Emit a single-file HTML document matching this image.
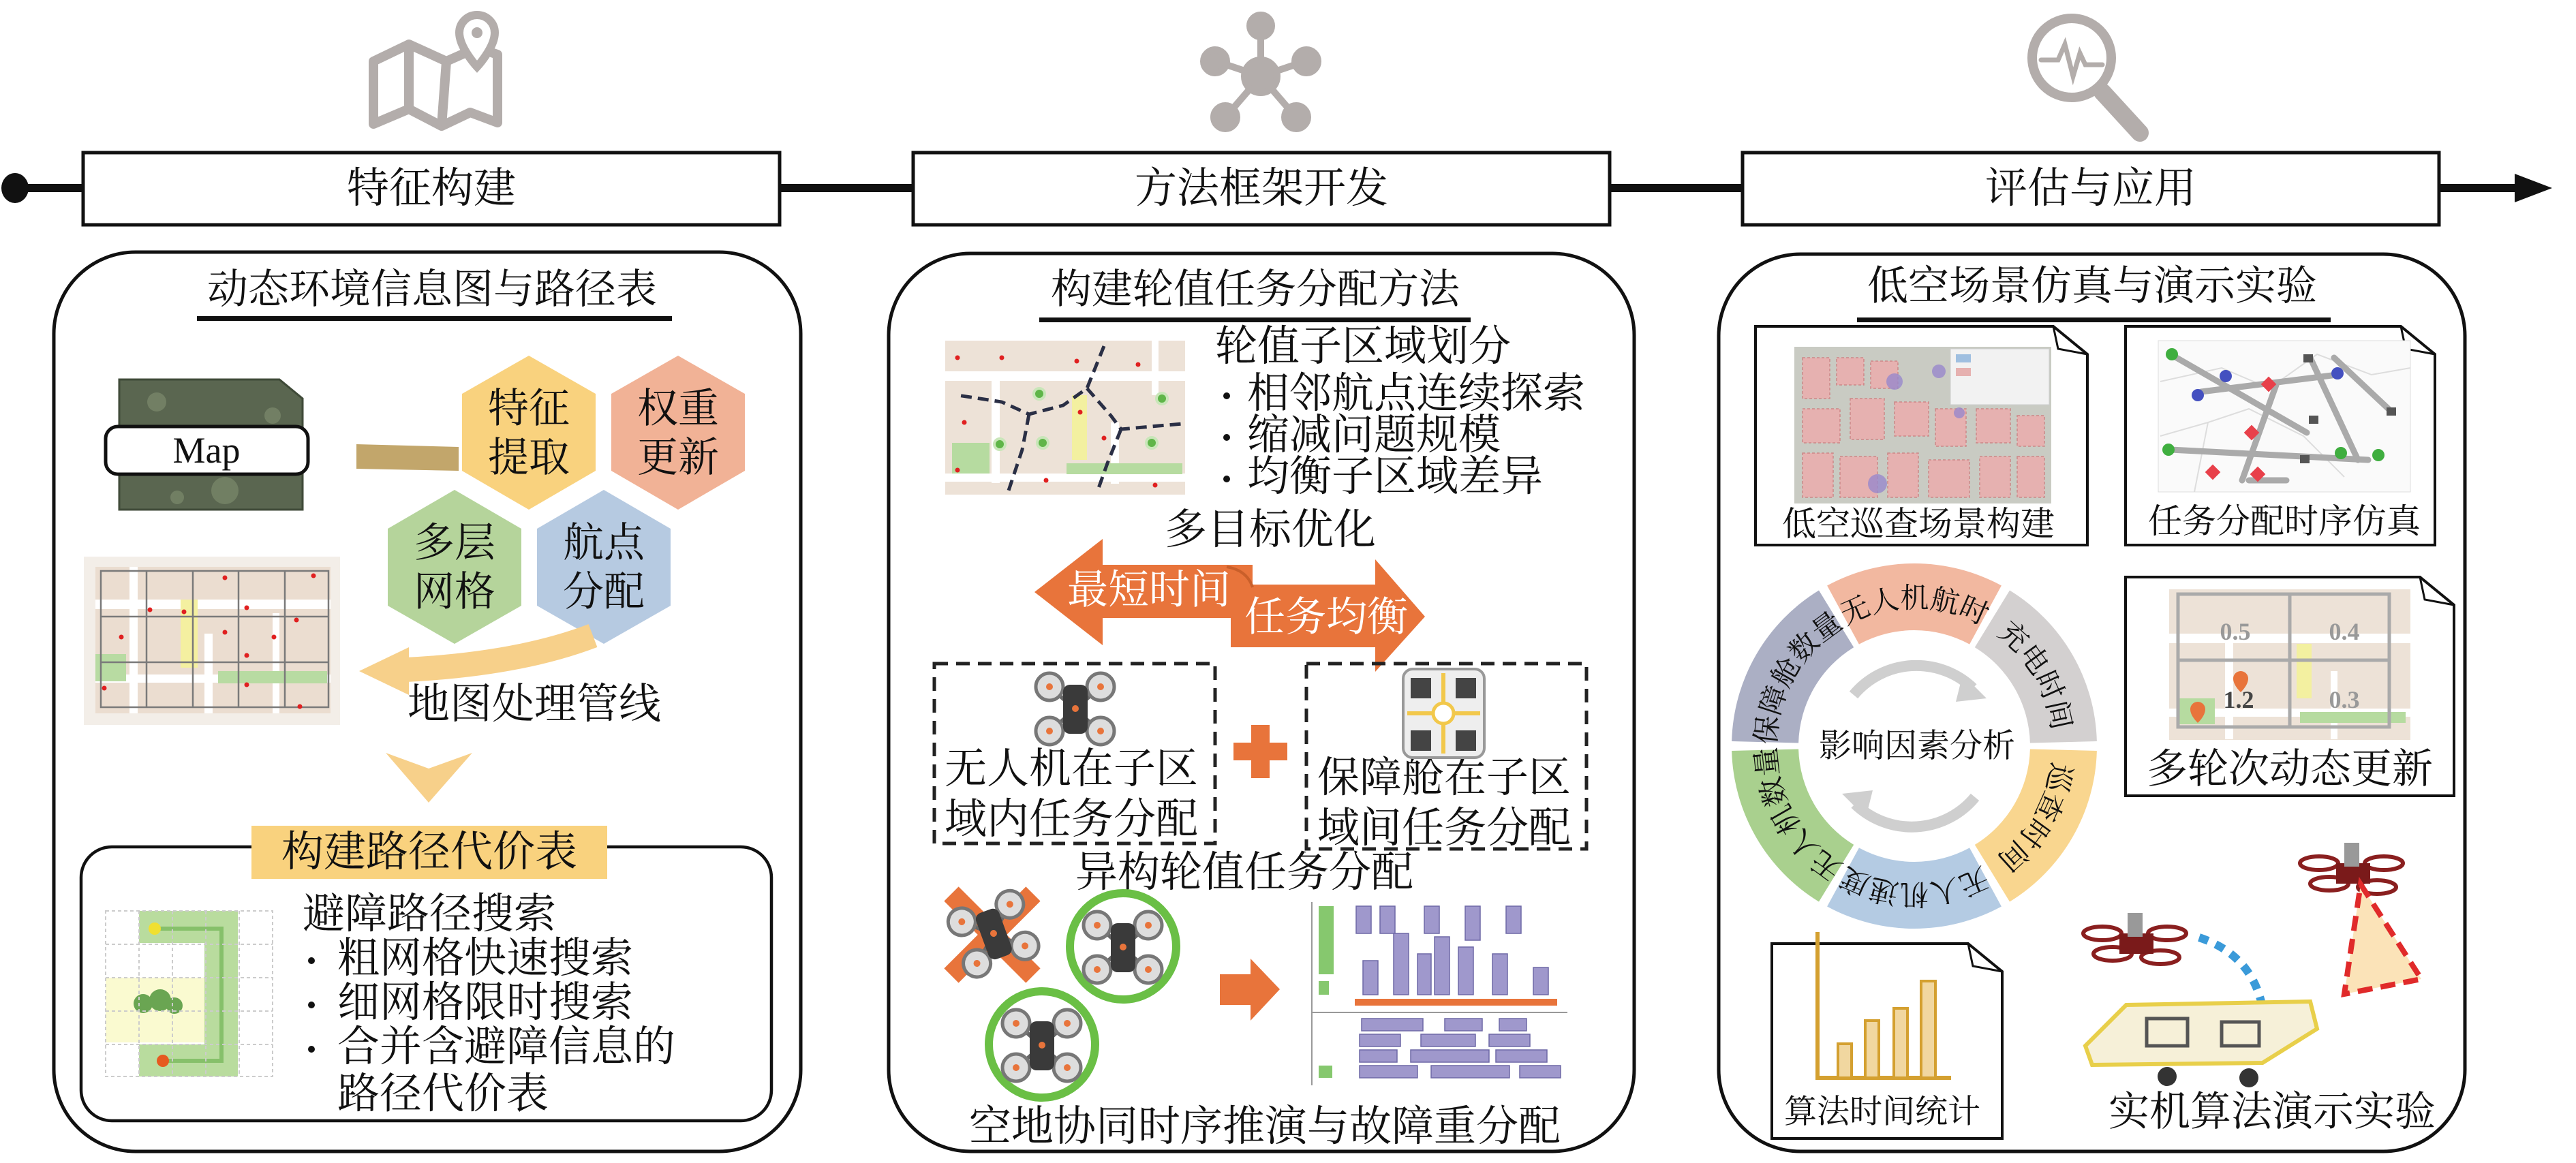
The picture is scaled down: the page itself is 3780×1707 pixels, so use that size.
<!DOCTYPE html>
<html><head><meta charset="utf-8"><style>
html,body{margin:0;padding:0;background:#fff}
svg{display:block}
text{font-family:"Liberation Serif","Noto Serif CJK SC",serif;fill:#111}
</style></head><body>
<svg width="3780" height="1707" viewBox="0 0 3780 1707" xmlns="http://www.w3.org/2000/svg">
<!-- top icons -->
<g fill="none" stroke="#b3adab" stroke-width="14" stroke-linejoin="round">
  <path d="M548 90 L600 65 L655 90 L700 70 L730 80 L730 180 L690 165 L648 185 L600 160 L548 182 Z"/>
  <line x1="600" y1="65" x2="600" y2="160"/><line x1="655" y1="90" x2="648" y2="185"/>
</g>
<path d="M700 22 a26 26 0 0 1 26 26 c0 22 -26 50 -26 50 c0 0 -26 -28 -26 -50 a26 26 0 0 1 26 -26z" fill="#fff" stroke="#b3adab" stroke-width="12"/>
<circle cx="700" cy="48" r="8" fill="#b3adab"/>
<g stroke="#b3adab" stroke-width="10" fill="#b3adab">
  <line x1="1850" y1="112" x2="1850" y2="40"/><line x1="1850" y1="112" x2="1785" y2="90"/><line x1="1850" y1="112" x2="1915" y2="90"/>
  <line x1="1850" y1="112" x2="1800" y2="170"/><line x1="1850" y1="112" x2="1900" y2="170"/>
  <circle cx="1850" cy="112" r="24"/><circle cx="1850" cy="38" r="16"/><circle cx="1783" cy="90" r="17"/><circle cx="1917" cy="90" r="17"/><circle cx="1798" cy="172" r="17"/><circle cx="1902" cy="172" r="17"/>
</g>
<g fill="none" stroke="#b3adab" stroke-linecap="round">
  <circle cx="3040" cy="85" r="58" stroke-width="14"/>
  <line x1="3085" y1="135" x2="3140" y2="195" stroke-width="26"/>
  <polyline points="2995,88 3020,88 3030,65 3042,112 3052,78 3060,95 3085,95" stroke-width="7"/>
</g>
<!-- timeline -->
<rect x="24" y="270" width="3680" height="12" fill="#111"/>
<ellipse cx="22" cy="276" rx="20" ry="22" fill="#111"/>
<polygon points="3690,255 3745,276 3690,297" fill="#111"/>
<g fill="#fff" stroke="#111">
  <rect x="122" y="224" width="1022" height="106" stroke-width="5"/>
  <rect x="1340" y="224" width="1022" height="106" stroke-width="5"/>
  <rect x="2557" y="224" width="1022" height="106" stroke-width="5"/>
</g>
<g font-size="62" text-anchor="middle" dominant-baseline="central">
  <text x="633" y="277">特征构建</text>
  <text x="1851" y="277">方法框架开发</text>
  <text x="3068" y="277">评估与应用</text>
</g>
<!-- panels -->
<g fill="none" stroke="#111" stroke-width="5">
  <rect x="79" y="370" width="1096" height="1320" rx="120"/>
  <rect x="1304" y="372" width="1094" height="1318" rx="120"/>
  <rect x="2522" y="373" width="1095" height="1317" rx="120"/>
</g>
<!-- ========== Panel 1 ========== -->
<text x="634" y="425" font-size="60" text-anchor="middle" dominant-baseline="central">动态环境信息图与路径表</text>
<rect x="289" y="464" width="697" height="7" fill="#111"/>
<path d="M175 557 L410 557 L444 585 L444 748 L175 748 Z" fill="#5a6650"/>
<path d="M175 557 L410 557 L444 585 L444 748 L175 748 Z" fill="none" stroke="#3f4a38" stroke-width="3"/>
<g fill="#7c8a6c" opacity="0.7"><circle cx="230" cy="590" r="14"/><circle cx="330" cy="720" r="20"/><circle cx="400" cy="610" r="12"/><circle cx="260" cy="730" r="10"/></g>
<rect x="155" y="626" width="297" height="70" rx="18" fill="#fff" stroke="#111" stroke-width="5"/>
<text x="303" y="661" font-size="54" text-anchor="middle" dominant-baseline="central">Map</text>
<polygon points="523,652 673,656 673,691 523,688" fill="#c2a66b"/>
<polygon points="826,755 868,745 874,756 832,766" fill="#c2a66b"/>
<polygon points="776,522 874,578 874,691 776,748 678,691 678,578" fill="#f9d27e"/>
<polygon points="995,522 1093,578 1093,691 995,748 897,691 897,578" fill="#f1b296"/>
<polygon points="667,719 765,776 765,889 667,945 569,889 569,776" fill="#b5d49b"/>
<polygon points="886,719 984,776 984,889 886,945 788,889 788,776" fill="#b6cae1"/>
<g font-size="60" text-anchor="middle" dominant-baseline="central">
  <text x="776" y="600">特征</text><text x="776" y="672">提取</text>
  <text x="995" y="600">权重</text><text x="995" y="672">更新</text>
  <text x="667" y="797">多层</text><text x="667" y="869">网格</text>
  <text x="886" y="797">航点</text><text x="886" y="869">分配</text>
</g>
<rect x="123" y="817" width="376" height="247" fill="#f3eee8"/>
<rect x="140" y="832" width="345" height="215" fill="#ebddd0"/>
<g fill="#fff"><rect x="140" y="880" width="345" height="14"/><rect x="190" y="832" width="12" height="215"/><rect x="300" y="930" width="12" height="117"/><rect x="140" y="990" width="345" height="12"/><rect x="400" y="900" width="10" height="147"/></g>
<rect x="265" y="880" width="25" height="100" fill="#f4f0a0"/>
<rect x="140" y="960" width="45" height="40" fill="#b8dba2"/><rect x="320" y="985" width="160" height="18" fill="#b8dba2"/>
<g stroke="#7a7a7a" stroke-width="2.5" fill="none"><rect x="148" y="838" width="334" height="200"/><line x1="215" y1="838" x2="215" y2="1038"/><line x1="283" y1="838" x2="283" y2="1038"/><line x1="350" y1="838" x2="350" y2="1038"/><line x1="418" y1="838" x2="418" y2="1038"/><line x1="148" y1="905" x2="482" y2="905"/><line x1="148" y1="972" x2="482" y2="972"/></g>
<g fill="#e02020"><circle cx="330" cy="848" r="3.5"/><circle cx="460" cy="845" r="3.5"/><circle cx="220" cy="895" r="3.5"/><circle cx="270" cy="898" r="3.5"/><circle cx="362" cy="892" r="3.5"/><circle cx="178" cy="935" r="3.5"/><circle cx="330" cy="928" r="3.5"/><circle cx="402" cy="935" r="3.5"/><circle cx="362" cy="962" r="3.5"/><circle cx="435" cy="910" r="3.5"/><circle cx="153" cy="1010" r="3.5"/><circle cx="362" cy="1005" r="3.5"/><circle cx="440" cy="1037" r="3.5"/></g>
<path d="M870 933 Q760 975 595 983" fill="none" stroke="#f7d08a" stroke-width="36"/>
<polygon points="527,985 600,950 600,1020" fill="#f7d08a"/>
<text x="784" y="1034" font-size="62" text-anchor="middle" dominant-baseline="central">地图处理管线</text>
<polygon points="566,1105 629,1128 693,1105 629,1178" fill="#f7d08a"/>
<rect x="119" y="1243" width="1013" height="402" rx="45" fill="none" stroke="#111" stroke-width="4.5"/>
<rect x="369" y="1212" width="522" height="78" fill="#f9d27e"/>
<text x="630" y="1251" font-size="62" text-anchor="middle" dominant-baseline="central">构建路径代价表</text>
<rect x="155" y="1337" width="245" height="243" fill="#fff"/>
<rect x="155" y="1435" width="145" height="95" fill="#fafad0"/>
<rect x="204" y="1337" width="145" height="47" fill="#b9dc9e"/>
<rect x="300" y="1337" width="49" height="243" fill="#b9dc9e"/>
<rect x="204" y="1533" width="145" height="47" fill="#b9dc9e"/>
<path d="M227 1363 L325 1363 L325 1557 L235 1557" fill="none" stroke="#86c06a" stroke-width="6"/>
<circle cx="227" cy="1363" r="9" fill="#f0e030"/><circle cx="239" cy="1557" r="9" fill="#e65a20"/>
<g fill="#6aa552"><circle cx="210" cy="1473" r="14"/><circle cx="235" cy="1468" r="16"/><circle cx="256" cy="1476" r="12"/></g>
<g stroke="#ccc" stroke-width="2" stroke-dasharray="5 4" fill="none"><rect x="155" y="1337" width="245" height="243"/><line x1="204" y1="1337" x2="204" y2="1580"/><line x1="253" y1="1337" x2="253" y2="1580"/><line x1="302" y1="1337" x2="302" y2="1580"/><line x1="351" y1="1337" x2="351" y2="1580"/><line x1="155" y1="1386" x2="400" y2="1386"/><line x1="155" y1="1435" x2="400" y2="1435"/><line x1="155" y1="1484" x2="400" y2="1484"/><line x1="155" y1="1533" x2="400" y2="1533"/></g>
<g font-size="62" dominant-baseline="central">
  <text x="444" y="1342">避障路径搜索</text>
  <text x="495" y="1407">粗网格快速搜索</text>
  <text x="495" y="1472">细网格限时搜索</text>
  <text x="495" y="1537">合并含避障信息的</text>
  <text x="495" y="1606">路径代价表</text>
</g>
<g fill="#111"><circle cx="457" cy="1410" r="5"/><circle cx="457" cy="1475" r="5"/><circle cx="457" cy="1540" r="5"/></g>
<!-- ========== Panel 2 ========== -->
<text x="1842" y="425" font-size="60" text-anchor="middle" dominant-baseline="central">构建轮值任务分配方法</text>
<rect x="1525" y="466" width="633" height="7" fill="#111"/>
<rect x="1387" y="500" width="352" height="226" fill="#ede2d7"/>
<g fill="#fff"><rect x="1387" y="545" width="352" height="14"/><rect x="1387" y="695" width="352" height="12"/><rect x="1455" y="559" width="12" height="150"/><rect x="1630" y="620" width="12" height="90"/><rect x="1690" y="500" width="10" height="80"/></g>
<rect x="1573" y="580" width="22" height="95" fill="#f3f0a0"/>
<rect x="1397" y="650" width="55" height="45" fill="#b6dba0"/><rect x="1565" y="680" width="170" height="16" fill="#b6dba0"/>
<g fill="none" stroke="#2a2f45" stroke-width="5" stroke-dasharray="16 9">
  <path d="M1620 508 L1595 570 L1560 595 L1510 608 L1470 590 L1405 580"/>
  <path d="M1595 570 L1630 610 L1645 630 L1700 625 L1735 622"/>
  <path d="M1510 608 L1500 660 L1480 720"/>
  <path d="M1645 630 L1625 680 L1610 722"/>
</g>
<g fill="#5fb548" stroke="#c9e6b9" stroke-width="4"><circle cx="1525" cy="578" r="8"/><circle cx="1705" cy="585" r="8"/><circle cx="1467" cy="652" r="8"/><circle cx="1530" cy="650" r="8"/><circle cx="1690" cy="650" r="8"/></g>
<g fill="#e02020"><circle cx="1405" cy="525" r="3.5"/><circle cx="1470" cy="525" r="3.5"/><circle cx="1580" cy="530" r="3.5"/><circle cx="1670" cy="535" r="3.5"/><circle cx="1415" cy="620" r="3.5"/><circle cx="1585" cy="605" r="3.5"/><circle cx="1620" cy="643" r="3.5"/><circle cx="1405" cy="690" r="3.5"/><circle cx="1535" cy="705" r="3.5"/><circle cx="1695" cy="712" r="3.5"/></g>
<g font-size="62" dominant-baseline="central">
  <text x="1783" y="509">轮值子区域划分</text>
  <text x="1830" y="578">相邻航点连续探索</text>
  <text x="1830" y="639">缩减问题规模</text>
  <text x="1830" y="700">均衡子区域差异</text>
</g>
<g fill="#111"><circle cx="1800" cy="581" r="5"/><circle cx="1800" cy="642" r="5"/><circle cx="1800" cy="703" r="5"/></g>
<text x="1864" y="778" font-size="62" text-anchor="middle" dominant-baseline="central">多目标优化</text>
<polygon points="1518,869 1618,791 1618,829 1838,829 1838,907 1618,907 1618,947" fill="#e8743b"/>
<polygon points="1806,858 2018,858 2018,821 2091,905 2018,986 2018,950 1806,950" fill="#e8743b"/>
<path d="M1800 832 q30 5 38 30" fill="none" stroke="#c95f2a" stroke-width="4"/>
<g font-size="60" dominant-baseline="central" text-anchor="middle">
  <text x="1686" y="866" style="fill:#fff">最短时间</text>
  <text x="1946" y="906" style="fill:#fff">任务均衡</text>
</g>
<g fill="none" stroke="#222" stroke-width="5" stroke-dasharray="20 12">
  <rect x="1371" y="974" width="412" height="264"/>
  <rect x="1917" y="974" width="411" height="272"/>
</g>
<g id="drone">
  <g stroke="#666" stroke-width="6"><line x1="1545" y1="1012" x2="1610" y2="1070"/><line x1="1610" y1="1012" x2="1545" y2="1070"/></g>
  <g fill="#ddd" stroke="#777" stroke-width="5"><circle cx="1540" cy="1008" r="20"/><circle cx="1615" cy="1008" r="20"/><circle cx="1540" cy="1073" r="20"/><circle cx="1615" cy="1073" r="20"/></g>
  <g fill="#e8743b"><circle cx="1540" cy="1008" r="5"/><circle cx="1615" cy="1008" r="5"/><circle cx="1540" cy="1073" r="5"/><circle cx="1615" cy="1073" r="5"/></g>
  <rect x="1560" y="1005" width="36" height="72" rx="10" fill="#3a3a3a"/>
  <circle cx="1578" cy="1040" r="5" fill="#e8743b"/>
</g>
<g font-size="62" dominant-baseline="central">
  <text x="1386" y="1129">无人机在子区</text><text x="1386" y="1203">域内任务分配</text>
  <text x="1933" y="1142">保障舱在子区</text><text x="1933" y="1216">域间任务分配</text>
</g>
<polygon points="1836,1064 1863,1064 1863,1090 1889,1090 1889,1116 1863,1116 1863,1142 1836,1142 1836,1116 1810,1116 1810,1090 1836,1090" fill="#e8743b"/>
<rect x="2059" y="982" width="119" height="130" rx="14" fill="#eee" stroke="#999" stroke-width="4"/>
<g fill="none" stroke="#f2c84b" stroke-width="6"><line x1="2065" y1="1047" x2="2172" y2="1047"/><line x1="2118" y1="988" x2="2118" y2="1106"/></g>
<circle cx="2118" cy="1047" r="15" fill="#fff" stroke="#f2c84b" stroke-width="5"/>
<g fill="#444"><rect x="2070" y="995" width="30" height="30"/><rect x="2136" y="995" width="30" height="30"/><rect x="2070" y="1072" width="30" height="30"/><rect x="2136" y="1072" width="30" height="30"/></g>
<text x="1826" y="1281" font-size="62" text-anchor="middle" dominant-baseline="central">异构轮值任务分配</text>
<g stroke="#e8743b" stroke-width="30"><line x1="1396" y1="1312" x2="1516" y2="1432"/><line x1="1516" y1="1312" x2="1396" y2="1432"/></g>
<use href="#drone" transform="translate(-120,330) rotate(-20 1578 1040)"/>
<circle cx="1648" cy="1389" r="78" fill="none" stroke="#6abf45" stroke-width="12"/>
<use href="#drone" transform="translate(70,350)"/>
<circle cx="1529" cy="1533" r="78" fill="none" stroke="#6abf45" stroke-width="12"/>
<use href="#drone" transform="translate(-49,494)"/>
<polygon points="1790,1430 1835,1430 1835,1407 1878,1452 1835,1498 1835,1475 1790,1475" fill="#e8743b"/>
<g fill="#9f98cc" stroke="#6e68a6" stroke-width="1.5">
  <rect x="1990" y="1330" width="22" height="40"/><rect x="2025" y="1330" width="22" height="40"/><rect x="2090" y="1330" width="22" height="40"/><rect x="2150" y="1330" width="22" height="50"/><rect x="2210" y="1330" width="22" height="40"/>
  <rect x="2045" y="1370" width="22" height="90"/><rect x="2105" y="1375" width="22" height="85"/><rect x="2140" y="1390" width="22" height="70"/><rect x="2190" y="1400" width="22" height="60"/><rect x="2250" y="1420" width="22" height="40"/><rect x="2000" y="1410" width="22" height="50"/><rect x="2080" y="1400" width="20" height="60"/>
  <rect x="1998" y="1495" width="90" height="18"/><rect x="2120" y="1495" width="55" height="18"/><rect x="2200" y="1495" width="40" height="18"/>
  <rect x="1995" y="1518" width="60" height="18"/><rect x="2085" y="1518" width="80" height="18"/><rect x="2185" y="1518" width="60" height="18"/>
  <rect x="1995" y="1541" width="55" height="18"/><rect x="2070" y="1541" width="115" height="18"/><rect x="2195" y="1541" width="75" height="18"/>
  <rect x="1995" y="1564" width="85" height="18"/><rect x="2100" y="1564" width="115" height="18"/><rect x="2230" y="1564" width="60" height="18"/>
</g>
<g fill="#86c86e"><rect x="1935" y="1330" width="22" height="100"/><rect x="1935" y="1440" width="15" height="20"/><rect x="1935" y="1564" width="20" height="18"/></g>
<rect x="1988" y="1466" width="297" height="10" fill="#e8743b"/>
<line x1="1925" y1="1486" x2="2300" y2="1486" stroke="#999" stroke-width="2"/>
<line x1="1925" y1="1324" x2="1925" y2="1593" stroke="#999" stroke-width="2"/>
<text x="1856" y="1654" font-size="62" text-anchor="middle" dominant-baseline="central">空地协同时序推演与故障重分配</text>
<!-- ========== Panel 3 ========== -->
<text x="3070" y="420" font-size="60" text-anchor="middle" dominant-baseline="central">低空场景仿真与演示实验</text>
<rect x="2725" y="466" width="695" height="7" fill="#111"/>
<g fill="#fff" stroke="#111" stroke-width="4">
  <path d="M2576 479 L3013 479 L3063 520 L3063 800 L2576 800 Z"/>
  <path d="M3119 479 L3523 479 L3573 520 L3573 800 L3119 800 Z"/>
  <path d="M3119 847 L3551 847 L3601 888 L3601 1168 L3119 1168 Z"/>
  <path d="M2600 1385 L2888 1385 L2938 1426 L2938 1671 L2600 1671 Z"/>
</g>
<g fill="none" stroke="#111" stroke-width="3"><path d="M3013 479 L3020 512 L3063 520"/><path d="M3523 479 L3530 512 L3573 520"/><path d="M3551 847 L3558 880 L3601 888"/><path d="M2888 1385 L2895 1418 L2938 1426"/></g>
<rect x="2633" y="509" width="377" height="230" fill="#c9cbc3"/>
<g fill="#e6b1b0" stroke="#c88" stroke-width="1.5" stroke-dasharray="4 3">
  <rect x="2645" y="525" width="40" height="60"/><rect x="2695" y="525" width="40" height="40"/><rect x="2745" y="530" width="40" height="40"/>
  <rect x="2645" y="600" width="55" height="50"/><rect x="2715" y="585" width="50" height="60"/><rect x="2780" y="590" width="50" height="50"/><rect x="2840" y="600" width="45" height="55"/><rect x="2900" y="600" width="50" height="50"/><rect x="2960" y="610" width="40" height="45"/>
  <rect x="2645" y="665" width="45" height="65"/><rect x="2700" y="670" width="55" height="60"/><rect x="2770" y="665" width="45" height="65"/><rect x="2830" y="675" width="60" height="55"/><rect x="2905" y="670" width="45" height="60"/><rect x="2960" y="670" width="40" height="60"/>
</g>
<rect x="2862" y="512" width="145" height="82" fill="#f2f2f2" stroke="#ccc"/>
<rect x="2870" y="520" width="22" height="12" fill="#9fbfe0"/><rect x="2870" y="540" width="22" height="12" fill="#e6b1b0"/>
<g fill="#9988cc" opacity=".8"><circle cx="2755" cy="710" r="14"/><circle cx="2780" cy="560" r="12"/><circle cx="2845" cy="545" r="10"/><circle cx="2875" cy="606" r="8"/></g>
<text x="2815" y="769" font-size="50" text-anchor="middle" dominant-baseline="central">低空巡查场景构建</text>
<rect x="3167" y="500" width="370" height="222" fill="#fafafa" stroke="#ddd"/>
<g stroke="#ddd" stroke-width="2" fill="none"><path d="M3170 560 L3260 540 L3330 570 L3400 520 L3480 550 L3537 540"/><path d="M3220 722 L3240 620 L3300 600 L3380 640 L3440 700"/><path d="M3170 640 L3240 620"/></g>
<g stroke="#aaa" stroke-width="9" stroke-linecap="round">
  <line x1="3185" y1="520" x2="3385" y2="635"/><line x1="3230" y1="575" x2="3430" y2="550"/><line x1="3425" y1="525" x2="3510" y2="605"/><line x1="3390" y1="525" x2="3460" y2="675"/><line x1="3185" y1="660" x2="3475" y2="675"/><line x1="3340" y1="565" x2="3290" y2="705"/><line x1="3300" y1="705" x2="3355" y2="705"/>
</g>
<g fill="#3fae3f"><circle cx="3187" cy="520" r="9"/><circle cx="3182" cy="660" r="9"/><circle cx="3435" cy="665" r="9"/><circle cx="3490" cy="668" r="9"/></g>
<g fill="#4450c0"><circle cx="3266" cy="552" r="9"/><circle cx="3225" cy="580" r="9"/><circle cx="3430" cy="548" r="9"/></g>
<g fill="#e8404a"><rect x="3321" y="556" width="16" height="16" transform="rotate(45 3329 564)"/><rect x="3296" y="627" width="16" height="16" transform="rotate(45 3304 635)"/><rect x="3239" y="685" width="16" height="16" transform="rotate(45 3247 693)"/><rect x="3305" y="688" width="16" height="16" transform="rotate(45 3313 696)"/></g>
<g fill="#555"><rect x="3380" y="520" width="14" height="12"/><rect x="3388" y="610" width="14" height="12"/><rect x="3502" y="598" width="14" height="12"/><rect x="3375" y="668" width="14" height="12"/></g>
<text x="3352" y="765" font-size="50" text-anchor="middle" dominant-baseline="central">任务分配时序仿真</text>
<rect x="3183" y="865" width="354" height="221" fill="#ede2d7"/>
<g fill="#fff"><rect x="3183" y="930" width="354" height="14"/><rect x="3183" y="1040" width="354" height="12"/><rect x="3265" y="935" width="12" height="150"/><rect x="3420" y="985" width="10" height="100"/></g>
<rect x="3370" y="945" width="22" height="80" fill="#f3f0a0"/>
<rect x="3195" y="1025" width="55" height="38" fill="#b6dba0"/><rect x="3375" y="1045" width="155" height="16" fill="#b6dba0"/>
<g stroke="#aaa" stroke-width="5" fill="none"><rect x="3196" y="872" width="310" height="195"/><line x1="3360" y1="872" x2="3360" y2="1067"/><line x1="3196" y1="969" x2="3506" y2="969"/></g>
<g font-size="36" font-weight="bold" text-anchor="middle" dominant-baseline="central">
  <text x="3280" y="927" style="fill:#999">0.5</text><text x="3440" y="927" style="fill:#999">0.4</text><text x="3285" y="1027" style="fill:#444">1.2</text><text x="3440" y="1027" style="fill:#999">0.3</text>
</g>
<g fill="#e8743b"><path d="M3288 985 a11 11 0 0 1 11 11 c0 10 -11 20 -11 20 c0 0 -11 -10 -11 -20 a11 11 0 0 1 11 -11z"/><path d="M3225 1030 a11 11 0 0 1 11 11 c0 10 -11 20 -11 20 c0 0 -11 -10 -11 -20 a11 11 0 0 1 11 -11z"/></g>
<text x="3360" y="1129" font-size="60" text-anchor="middle" dominant-baseline="central">多轮次动态更新</text>
<!-- ring -->
<path d="M2681.1 859.5 A268 268 0 0 1 2936.9 859.5 L2890.1 945.6 A170 170 0 0 0 2727.9 945.6 Z" fill="#f2b8a0"/>
<path d="M2949.0 866.5 A268 268 0 0 1 3076.9 1088.0 L2978.9 1090.5 A170 170 0 0 0 2897.8 950.1 Z" fill="#d3d0d0"/>
<path d="M3076.9 1102.0 A268 268 0 0 1 2949.0 1323.5 L2897.8 1239.9 A170 170 0 0 0 2978.9 1099.5 Z" fill="#f9d68f"/>
<path d="M2936.9 1330.5 A268 268 0 0 1 2681.1 1330.5 L2727.9 1244.4 A170 170 0 0 0 2890.1 1244.4 Z" fill="#b4cbe3"/>
<path d="M2669.0 1323.5 A268 268 0 0 1 2541.1 1102.0 L2639.1 1099.5 A170 170 0 0 0 2720.2 1239.9 Z" fill="#a9d08e"/>
<path d="M2541.1 1088.0 A268 268 0 0 1 2669.0 866.5 L2720.2 950.1 A170 170 0 0 0 2639.1 1090.5 Z" fill="#abafc4"/>
<path id="ringp" d="M2809 1298 A203 203 0 0 1 2809 892 A203 203 0 0 1 2809 1298 A203 203 0 0 1 2809 892 A203 203 0 0 1 2809 1298" fill="none"/>
<g font-size="42" text-anchor="middle">
  <text><textPath href="#ringp" startOffset="638">无人机航时</textPath></text>
  <text><textPath href="#ringp" startOffset="850">充电时间</textPath></text>
  <text><textPath href="#ringp" startOffset="1063">巡查时间</textPath></text>
  <text><textPath href="#ringp" startOffset="1275">无人机速度</textPath></text>
  <text><textPath href="#ringp" startOffset="1488">无人机数量</textPath></text>
  <text><textPath href="#ringp" startOffset="425">保障舱数量</textPath></text>
</g>
<g fill="none" stroke="#cfcfcf" stroke-width="16"><path d="M2720 1020 A120 120 0 0 1 2895 1010"/><path d="M2898 1170 A120 120 0 0 1 2722 1180"/></g>
<polygon points="2880,990 2915,1025 2870,1030" fill="#cfcfcf"/><polygon points="2738,1200 2703,1165 2748,1160" fill="#cfcfcf"/>
<text x="2813" y="1095" font-size="48" text-anchor="middle" dominant-baseline="central">影响因素分析</text>
<polyline points="2667,1368 2667,1582 2863,1582" fill="none" stroke="#d4a030" stroke-width="6"/>
<g fill="#f1d7a0" stroke="#d4a030" stroke-width="4"><rect x="2697" y="1532" width="20" height="50"/><rect x="2737" y="1498" width="20" height="84"/><rect x="2779" y="1480" width="20" height="102"/><rect x="2819" y="1440" width="21" height="142"/></g>
<text x="2762" y="1632" font-size="48" text-anchor="middle" dominant-baseline="central">算法时间统计</text>
<!-- real drones -->
<g id="rd">
  <g fill="none" stroke="#8a1f1f" stroke-width="6"><ellipse cx="3085" cy="1370" rx="28" ry="10"/><ellipse cx="3180" cy="1370" rx="28" ry="10"/><ellipse cx="3100" cy="1400" rx="28" ry="10"/><ellipse cx="3170" cy="1405" rx="28" ry="10"/></g>
  <rect x="3110" y="1370" width="50" height="30" fill="#7a1a1a"/>
  <rect x="3122" y="1340" width="22" height="35" fill="#999"/>
</g>
<use href="#rd" transform="translate(318,-103)"/>
<polygon points="3464,1298 3553,1437 3440,1459" fill="#fbe3b8" stroke="#e02a2a" stroke-width="8" stroke-dasharray="22 12"/>
<path d="M3227 1376 Q3300 1400 3318 1470" fill="none" stroke="#3a9ad9" stroke-width="12" stroke-dasharray="14 12"/>
<polygon points="3300,1470 3338,1470 3322,1505" fill="#3a9ad9"/>
<polygon points="3060,1535 3120,1475 3390,1470 3400,1510 3320,1560 3070,1563" fill="#f6f0d8" stroke="#e8cf4a" stroke-width="6"/>
<g fill="none" stroke="#555" stroke-width="5"><rect x="3150" y="1495" width="60" height="40"/><rect x="3260" y="1500" width="55" height="35"/></g>
<g fill="#333"><circle cx="3180" cy="1580" r="14"/><circle cx="3300" cy="1582" r="14"/></g>
<text x="3334" y="1632" font-size="60" text-anchor="middle" dominant-baseline="central">实机算法演示实验</text>
</svg>
</body></html>
